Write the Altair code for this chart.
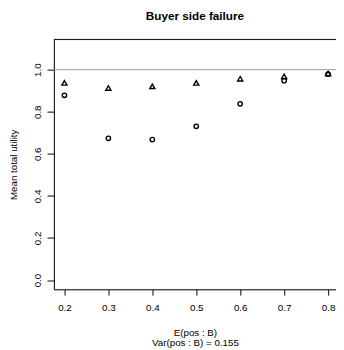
import altair as alt
import pandas as pd

# data
x_vals = [0.2, 0.3, 0.4, 0.5, 0.6, 0.7, 0.8]
triangle_vals = [0.937, 0.913, 0.921, 0.937, 0.957, 0.968, 0.982]
circle_vals = [0.878, 0.674, 0.668, 0.731, 0.838, 0.948, 0.979]
x_ticks = [0.2, 0.3, 0.4, 0.5, 0.6, 0.7, 0.8]
y_ticks = [0.0, 0.2, 0.4, 0.6, 0.8, 1.0]
ref_value = [1.0]

FONT = "Liberation Sans"

tri_df = pd.DataFrame({"x": x_vals, "y": triangle_vals})
cir_df = pd.DataFrame({"x": x_vals, "y": circle_vals})
ref_df = pd.DataFrame({"y": ref_value})

xscale = alt.Scale(domain=[0.176, 0.818], nice=False, zero=False)
yscale = alt.Scale(domain=[-0.044, 1.144], nice=False, zero=False)

xaxis = alt.Axis(values=x_ticks, format=".1f", tickSize=6, labelPadding=8,
                 grid=False, domainColor="black", tickColor="black",
                 labelColor="black", labelFont=FONT, labelFontSize=10,
                 titleFont=FONT, titleFontSize=10, titleFontWeight="normal",
                 titleColor="black", titlePadding=15, labelFlush=False,
                 title=["E(pos : B)", "Var(pos : B) = 0.155"], titleLineHeight=11)
yaxis = alt.Axis(values=y_ticks, format=".1f", tickSize=7, labelPadding=5,
                 labelAngle=270, grid=False, domainColor="black", tickColor="black",
                 labelColor="black", labelFont=FONT, labelFontSize=10,
                 titleFont=FONT, titleFontSize=10, titleFontWeight="normal",
                 titleColor="black", titlePadding=14, labelFlush=False,
                 title="Mean total utility")

ref = alt.Chart(ref_df).mark_rule(color="#999999", strokeWidth=1).encode(
    y=alt.Y("y:Q", scale=yscale, axis=yaxis)
)

top_border = alt.Chart(ref_df).mark_rule(color="black", strokeWidth=1).encode(
    y=alt.value(0)
)

tri = alt.Chart(tri_df).mark_point(shape="triangle-up", filled=False, color="black",
                                    size=28, strokeWidth=1.4, opacity=1).encode(
    x=alt.X("x:Q", scale=xscale, axis=xaxis),
    y=alt.Y("y:Q", scale=yscale, axis=yaxis),
)

cir = alt.Chart(cir_df).mark_point(shape="circle", filled=False, color="black",
                                    size=20, strokeWidth=1.4, opacity=1).encode(
    x=alt.X("x:Q", scale=xscale, axis=xaxis),
    y=alt.Y("y:Q", scale=yscale, axis=yaxis),
)

chart = alt.layer(ref, top_border, tri, cir).properties(
    width=289,
    height=256,
    autosize=alt.AutoSizeParams(type="none"),
    padding={"left": 47, "top": 28, "right": 0, "bottom": 58},
    title=alt.TitleParams("Buyer side failure", font=FONT, fontSize=12,
                          fontWeight="bold", color="black", anchor="middle",
                          frame="group", offset=16),
).configure_view(stroke=None).configure(background="white")

chart.save("out.html", embed_options={"renderer": "svg", "actions": False})
